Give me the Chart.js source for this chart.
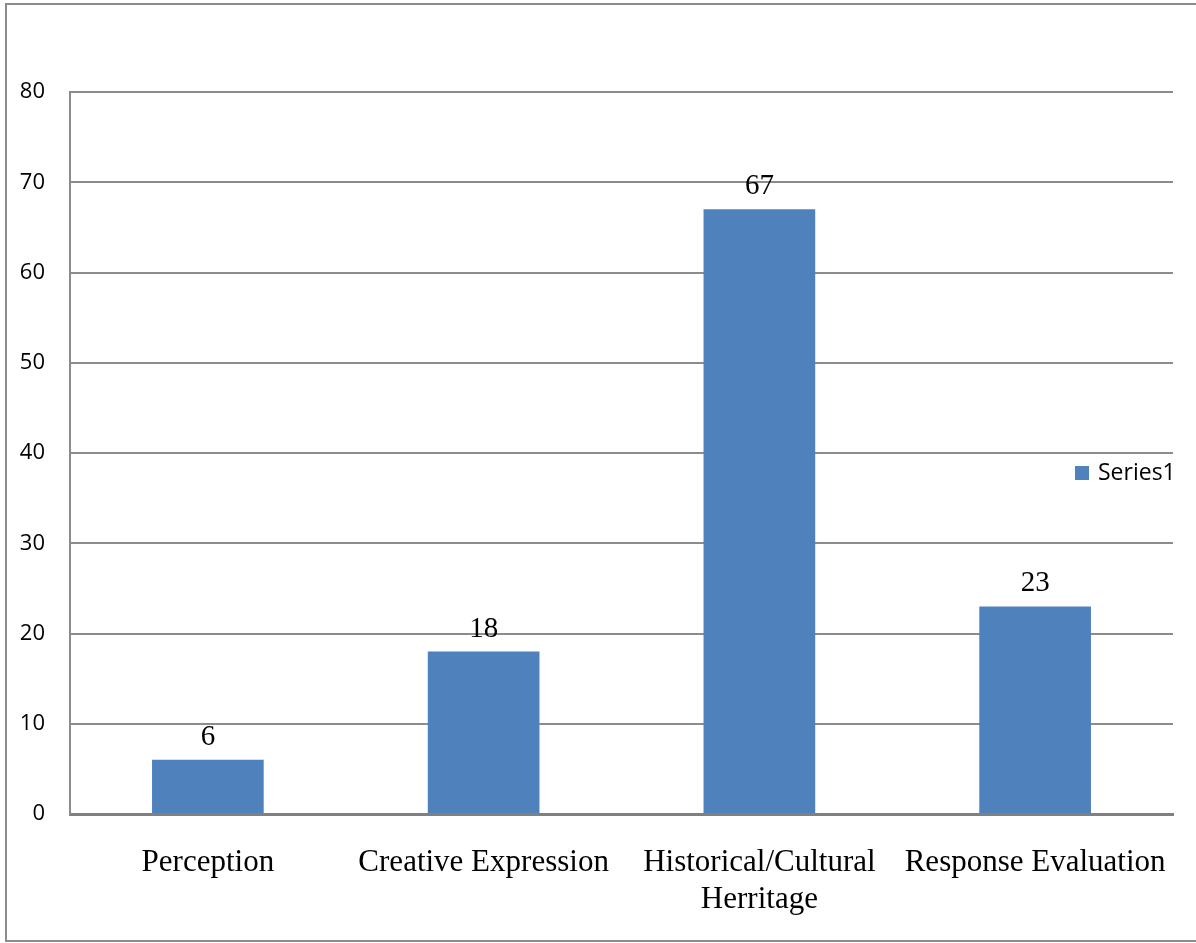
<!DOCTYPE html>
<html>
<head>
<meta charset="utf-8">
<script src="https://cdn.jsdelivr.net/npm/chart.js@4.4.0/dist/chart.umd.min.js"></script>
<style>
  html, body { margin: 0; padding: 0; background: #ffffff; }
  #wrap { width: 1196px; height: 943px; position: relative; }
</style>
</head>
<body>
<div id="wrap"><canvas id="c" width="1196" height="943"></canvas></div>
<script>
const categories = ['Perception', 'Creative Expression', ['Historical/Cultural', 'Herritage'], 'Response Evaluation'];
const seriesName = 'Series1';
const seriesValues = [6, 18, 67, 23];
const yTicks = [0, 10, 20, 30, 40, 50, 60, 70, 80];

const barColor = '#4F81BD';
const sansFont = "'Open Sans', 'DejaVu Sans', sans-serif";
const serifFont = "'Liberation Serif', 'DejaVu Serif', serif";

const frameAndLabels = {
  id: 'frameAndLabels',
  beforeDraw(chart) {
    const ctx = chart.ctx;
    ctx.save();
    ctx.fillStyle = '#ffffff';
    ctx.fillRect(0, 0, chart.width, chart.height);
    ctx.strokeStyle = '#8c8c8c';
    ctx.lineWidth = 2;
    ctx.beginPath();
    ctx.moveTo(1200, 4);
    ctx.lineTo(6, 4);
    ctx.lineTo(6, 941);
    ctx.lineTo(1200, 941);
    ctx.stroke();
    ctx.restore();
  },
  afterDatasetsDraw(chart) {
    const ctx = chart.ctx;
    const meta = chart.getDatasetMeta(0);
    const ds = chart.data.datasets[0];
    ctx.save();
    ctx.fillStyle = '#000000';
    ctx.font = "29px " + serifFont;
    ctx.textAlign = 'center';
    ctx.textBaseline = 'alphabetic';
    meta.data.forEach((bar, i) => {
      ctx.fillText(String(ds.data[i]), bar.x, bar.y - 15);
    });
    // legend
    const ca = chart.chartArea;
    const ly = (ca.top + ca.bottom) / 2 + 20;
    ctx.fillStyle = ds.backgroundColor;
    ctx.fillRect(1075, ly - 7, 14, 14);
    ctx.fillStyle = '#000000';
    ctx.font = "23px " + sansFont;
    ctx.textAlign = 'left';
    ctx.textBaseline = 'middle';
    ctx.fillText(ds.label, 1098, ly);
    ctx.restore();
  }
};

new Chart(document.getElementById('c'), {
  type: 'bar',
  data: {
    labels: categories,
    datasets: [{
      label: seriesName,
      data: seriesValues,
      backgroundColor: barColor,
      borderWidth: 0,
      barPercentage: 0.405,
      categoryPercentage: 1.0
    }]
  },
  options: {
    responsive: false,
    animation: false,
    devicePixelRatio: 1,
    layout: { padding: { top: 92, right: 23, bottom: 27, left: 0 } },
    plugins: {
      legend: { display: false },
      tooltip: { enabled: false }
    },
    scales: {
      x: {
        afterFit(scale) {
          scale.height = 102;
          scale.paddingLeft = 0;
          scale.paddingRight = 0;
        },
        grid: { display: false, drawTicks: false },
        border: { display: true, color: '#808080', width: 3 },
        ticks: {
          color: '#000000',
          font: { family: serifFont, size: 31, lineHeight: 1.17 },
          padding: 31,
          maxRotation: 0,
          autoSkip: false
        }
      },
      y: {
        min: 0,
        max: 80,
        afterFit(scale) { scale.width = 70; },
        afterBuildTicks(scale) { scale.ticks = yTicks.map(v => ({ value: v })); },
        grid: { color: '#8c8c8c', lineWidth: 2, drawTicks: false },
        border: { display: true, color: '#8c8c8c', width: 2 },
        ticks: {
          color: '#000000',
          font: { family: sansFont, size: 22 },
          padding: 25
        }
      }
    }
  },
  plugins: [frameAndLabels]
});
</script>
</body>
</html>
